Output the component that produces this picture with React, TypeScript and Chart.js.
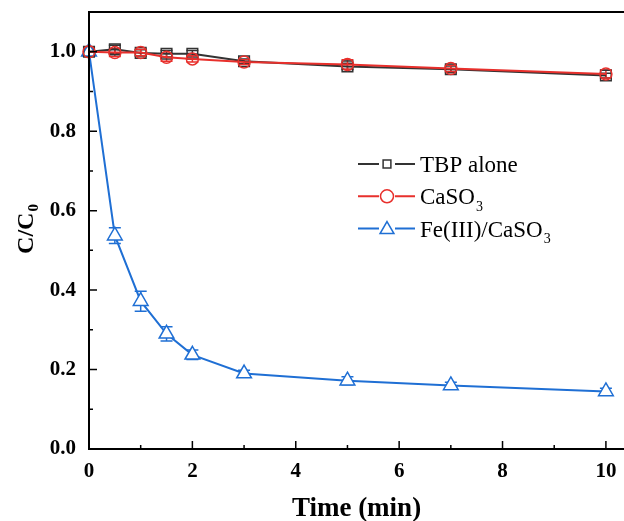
import React, { useEffect, useRef } from 'react';
import { Chart, registerables } from 'chart.js';

Chart.register(...registerables);

const timeMin = [0, 0.5, 1, 1.5, 2, 3, 5, 7, 10];
const tbpAlone = [1.0, 1.006, 0.997, 0.995, 0.995, 0.976, 0.963, 0.956, 0.94];
const tbpAloneErr = [0.008, 0.01, 0.008, 0.008, 0.008, 0.006, 0.008, 0.008, 0.006];
const caSO3 = [1.0, 0.998, 0.998, 0.986, 0.982, 0.974, 0.968, 0.958, 0.944];
const caSO3Err = [0.006, 0.01, 0.008, 0.01, 0.008, 0.006, 0.012, 0.008, 0.01];
const feCaSO3 = [1.0, 0.537, 0.372, 0.29, 0.237, 0.19, 0.172, 0.16, 0.145];
const feCaSO3Err = [0.005, 0.02, 0.025, 0.018, 0.012, 0.008, 0.01, 0.008, 0.008];

const xTicks = [0, 2, 4, 6, 8, 10];
const xMinorTicks = [1, 3, 5, 7, 9];
const yTicks = [0, 0.2, 0.4, 0.6, 0.8, 1.0];
const yMinorTicks = [0.1, 0.3, 0.5, 0.7, 0.9];

const seriesLabels = ['TBP alone', 'CaSO3', 'Fe(III)/CaSO3'];
const seriesColors = ['#333333', '#e8302c', '#1f6fd4'];
const xTitle = 'Time (min)';
const yTitleMain = 'C/C';
const yTitleSub = '0';

const SERIF = '"Liberation Serif", "Times New Roman", serif';

function drawMarker(ctx: CanvasRenderingContext2D, style: string, x: number, y: number, r: number) {
  ctx.beginPath();
  if (style === 'rect') {
    const s = r * Math.SQRT1_2;
    ctx.rect(x - s, y - s, 2 * s, 2 * s);
  } else if (style === 'circle') {
    ctx.arc(x, y, r, 0, Math.PI * 2);
  } else {
    const w = r * Math.sqrt(3) / 2;
    ctx.moveTo(x, y - r);
    ctx.lineTo(x + w, y + r / 2);
    ctx.lineTo(x - w, y + r / 2);
    ctx.closePath();
  }
}

const errorBarsPlugin = {
  id: 'errorBars',
  beforeDatasetsDraw(chart: any) {
    const { ctx, scales } = chart;
    const xs = scales.x;
    const ys = scales.y;
    chart.data.datasets.forEach((ds: any) => {
      const errs: number[] = ds.errors || [];
      ctx.save();
      ctx.strokeStyle = ds.borderColor;
      ctx.lineWidth = 1.5;
      ds.data.forEach((p: any, i: number) => {
        const e = errs[i] || 0;
        if (!e) return;
        const x = xs.getPixelForValue(p.x);
        const y1 = ys.getPixelForValue(p.y + e);
        const y2 = ys.getPixelForValue(p.y - e);
        ctx.beginPath();
        ctx.moveTo(x, y1);
        ctx.lineTo(x, y2);
        ctx.moveTo(x - 6, y1);
        ctx.lineTo(x + 6, y1);
        ctx.moveTo(x - 6, y2);
        ctx.lineTo(x + 6, y2);
        ctx.stroke();
      });
      ctx.restore();
    });
  },
};

const frameTicksPlugin = {
  id: 'frameTicks',
  afterDatasetsDraw(chart: any) {
    const { ctx, chartArea, scales } = chart;
    const { left, right, top, bottom } = chartArea;
    ctx.save();
    ctx.strokeStyle = '#000';
    ctx.lineWidth = 2;
    ctx.beginPath();
    ctx.moveTo(right + 1, top);
    ctx.lineTo(left, top);
    ctx.lineTo(left, bottom);
    ctx.lineTo(right + 1, bottom);
    if (right < chart.width - 2) {
      ctx.moveTo(right, top);
      ctx.lineTo(right, bottom);
    }
    ctx.stroke();
    ctx.lineWidth = 1.5;
    ctx.beginPath();
    xTicks.forEach((v) => {
      const x = scales.x.getPixelForValue(v);
      ctx.moveTo(x, bottom);
      ctx.lineTo(x, bottom - 8);
    });
    xMinorTicks.forEach((v) => {
      const x = scales.x.getPixelForValue(v);
      ctx.moveTo(x, bottom);
      ctx.lineTo(x, bottom - 4);
    });
    yTicks.forEach((v) => {
      const y = scales.y.getPixelForValue(v);
      ctx.moveTo(left, y);
      ctx.lineTo(left + 8, y);
    });
    yMinorTicks.forEach((v) => {
      const y = scales.y.getPixelForValue(v);
      ctx.moveTo(left, y);
      ctx.lineTo(left + 4, y);
    });
    ctx.stroke();
    ctx.restore();
  },
};

function drawSubText(ctx: CanvasRenderingContext2D, text: string, x: number, y: number, size: number, weight: string) {
  const m = text.match(/^(.*SO)(\d)$/);
  ctx.font = `${weight} ${size}px ${SERIF}`;
  if (!m) {
    ctx.fillText(text, x, y);
    return;
  }
  ctx.fillText(m[1], x, y);
  const w = ctx.measureText(m[1]).width;
  ctx.font = `${weight} ${Math.round(size * 0.62)}px ${SERIF}`;
  ctx.fillText(m[2], x + w + 1, y + size * 0.28);
}

const legendPlugin = {
  id: 'customLegend',
  afterDraw(chart: any) {
    const { ctx } = chart;
    const x0 = 358;
    const x1 = 415;
    const mx = 387;
    const textX = 420;
    const baseY = 172;
    const gap = 32.3;
    ctx.save();
    chart.data.datasets.forEach((ds: any, i: number) => {
      const yb = baseY + i * gap;
      const yl = yb - 8;
      ctx.strokeStyle = ds.borderColor;
      ctx.lineWidth = 2;
      ctx.beginPath();
      ctx.moveTo(x0, yl);
      ctx.lineTo(mx - 8, yl);
      ctx.moveTo(mx + 8, yl);
      ctx.lineTo(x1, yl);
      ctx.stroke();
      ctx.lineWidth = 1.5;
      ctx.fillStyle = '#fff';
      const r = ds.pointStyle === 'rect' ? 5.5 : ds.pointStyle === 'circle' ? 6.5 : 8;
      drawMarker(ctx, ds.pointStyle, mx, yl + (ds.pointStyle === 'triangle' ? 1 : 0), r);
      ctx.fill();
      ctx.stroke();
      ctx.fillStyle = '#000';
      ctx.textBaseline = 'alphabetic';
      ctx.textAlign = 'left';
      drawSubText(ctx, ds.label, textX, yb, 23, 'normal');
    });
    ctx.restore();

    ctx.save();
    ctx.translate(25, 229);
    ctx.rotate(-Math.PI / 2);
    ctx.fillStyle = '#000';
    ctx.textBaseline = 'alphabetic';
    ctx.font = `bold 24px ${SERIF}`;
    const wMain = ctx.measureText(yTitleMain).width;
    ctx.font = `bold 15px ${SERIF}`;
    const wSub = ctx.measureText(yTitleSub).width;
    const start = -(wMain + wSub + 1) / 2;
    ctx.font = `bold 24px ${SERIF}`;
    ctx.fillText(yTitleMain, start, 8);
    ctx.font = `bold 15px ${SERIF}`;
    ctx.fillText(yTitleSub, start + wMain + 1, 13);
    ctx.restore();
  },
};

export default function App() {
  const ref = useRef<HTMLCanvasElement | null>(null);

  useEffect(() => {
    document.body.style.margin = '0';
    const canvas = ref.current;
    if (!canvas) return;
    const mk = (vals: number[]) => timeMin.map((t, i) => ({ x: t, y: vals[i] }));
    const chart = new Chart(canvas, {
      type: 'line',
      data: {
        datasets: [
          {
            label: seriesLabels[0],
            data: mk(tbpAlone),
            errors: tbpAloneErr,
            borderColor: seriesColors[0],
            borderWidth: 2,
            pointStyle: 'rect',
            pointRadius: 7.5,
            pointBorderWidth: 1.5,
            pointBorderColor: seriesColors[0],
            pointBackgroundColor: 'rgba(255,255,255,0)',
            tension: 0,
            clip: false,
            order: 2,
          } as any,
          {
            label: seriesLabels[1],
            data: mk(caSO3),
            errors: caSO3Err,
            borderColor: seriesColors[1],
            borderWidth: 2,
            pointStyle: 'circle',
            pointRadius: 6,
            pointBorderWidth: 1.5,
            pointBorderColor: seriesColors[1],
            pointBackgroundColor: 'rgba(255,255,255,0)',
            tension: 0,
            clip: false,
            order: 1,
          } as any,
          {
            label: seriesLabels[2],
            data: mk(feCaSO3),
            errors: feCaSO3Err,
            borderColor: seriesColors[2],
            borderWidth: 2,
            pointStyle: 'triangle',
            pointRadius: 8.5,
            pointBorderWidth: 1.5,
            pointBorderColor: seriesColors[2],
            pointBackgroundColor: '#fff',
            tension: 0,
            clip: false,
            order: 3,
          } as any,
        ],
      },
      options: {
        responsive: false,
        animation: false,
        layout: { autoPadding: false, padding: { top: 12, right: 0, left: 0, bottom: 0 } },
        plugins: {
          legend: { display: false },
          tooltip: { enabled: false },
        },
        scales: {
          x: {
            type: 'linear',
            min: 0,
            max: 10.35,
            afterBuildTicks: (s: any) => {
              s.ticks = xTicks.map((v) => ({ value: v }));
            },
            afterFit: (s: any) => {
              s.height = 72;
              s.paddingLeft = 0;
              s.paddingRight = 0;
            },
            grid: { display: false, drawTicks: false },
            border: { display: false },
            ticks: {
              color: '#000',
              padding: 10,
              maxRotation: 0,
              autoSkip: false,
              font: { family: SERIF, size: 21, weight: 'bold' },
              callback: (v: any) => String(v),
            },
            title: {
              display: true,
              text: xTitle,
              color: '#000',
              font: { family: SERIF, size: 27, weight: 'bold', lineHeight: 0.85 },
              padding: { top: 0, bottom: 0 },
            },
          },
          y: {
            type: 'linear',
            min: 0,
            max: 1.1,
            afterBuildTicks: (s: any) => {
              s.ticks = yTicks.map((v) => ({ value: v }));
            },
            afterFit: (s: any) => {
              s.width = 89;
              s.paddingTop = 0;
              s.paddingBottom = 0;
            },
            grid: { display: false, drawTicks: false },
            border: { display: false },
            ticks: {
              color: '#000',
              padding: 13,
              autoSkip: false,
              font: { family: SERIF, size: 21, weight: 'bold' },
              callback: (v: any) => Number(v).toFixed(1),
            },
          },
        },
      } as any,
      plugins: [errorBarsPlugin, frameTicksPlugin, legendPlugin],
    });
    return () => chart.destroy();
  }, []);

  return <canvas ref={ref} width={624} height={521} style={{ display: 'block' }} />;
}
